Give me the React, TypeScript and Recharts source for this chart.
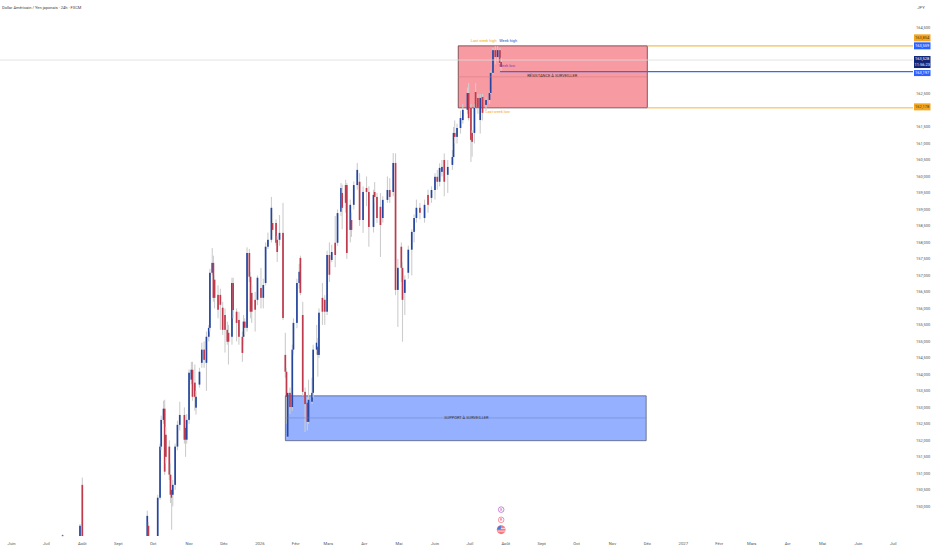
import { ComposedChart, Bar, XAxis, YAxis, ReferenceArea, ReferenceLine, ReferenceDot } from "recharts"

// daily candles, day 0 = 22 May 2025
const days = [
  54, 69, 71, 127, 128, 136, 138, 139, 141, 142,
  143, 146, 147, 148, 149, 151, 153, 155, 159, 160,
  161, 163, 165, 166, 168, 169, 172, 174, 176, 178,
  180, 181, 183, 184, 185, 188, 190, 192, 194, 196,
  197, 200, 201, 204, 206, 209, 210, 211, 213, 215,
  216, 217, 220, 222, 225, 227, 229, 231, 234, 235,
  238, 239, 241, 244, 246, 247, 248, 250, 252, 253,
  256, 258, 259, 261, 263, 265, 266, 269, 270, 273,
  274, 275, 278, 280, 282, 284, 286, 289, 291, 294,
  295, 298, 299, 302, 303, 305, 308, 310, 313, 316,
  318, 322, 323, 325, 328, 330, 334, 336, 339, 341,
  343, 346, 347, 349, 352, 355, 357, 359, 362, 366,
  369, 372, 375, 377, 379, 381, 383, 386, 390, 391,
  392, 394, 397, 399, 403, 404, 406, 407, 409, 410,
  412, 414, 416, 419, 422, 423, 425, 427, 429, 431, 432,
]
const opens = [
  149.1, 149.1, 150.65, 149.1, 149.41, 149.1, 150.26, 151.81, 152.62, 152.96,
  152.17, 151.81, 150.96, 150.5, 150.35, 150.65, 151.81, 152.47, 152.77, 152.38,
  152.02, 152.62, 153.84, 154.14, 153.75, 152.99, 153.69, 154.35, 154.75, 154.35,
  155.14, 155.41, 157.08, 157.38, 156.87, 156.41, 156.41, 156.02, 155.8, 155.35,
  155.26, 155.14, 156.77, 155.9, 155.65, 155.14, 155.14, 155.6, 155.41, 157.68,
  156.96, 156.47, 156.26, 156.26, 156.62, 156.32, 156.77, 157.87, 158.08, 158.59,
  158.59, 158.08, 158.08, 158.29, 154.59, 154.08, 152.11, 153.44, 153.01, 154.75,
  155.56, 156.77, 157.53, 155.8, 153.47, 153.14, 152.56, 153.17, 153.44, 154.75,
  154.84, 154.59, 156.32, 156.26, 155.9, 157.62, 157.47, 157.99, 157.99, 158.93,
  159.5, 159.74, 159.74, 158.38, 158.68, 159.14, 159.74, 159.84, 158.68, 159.65,
  159.53, 158.47, 159.53, 159.38, 159.08, 158.74, 159.29, 159.59, 159.53, 160.41,
  156.56, 157.87, 157.23, 156.47, 157.08, 157.78, 158.32, 158.74, 159.05, 158.74,
  159.44, 159.35, 159.59, 159.99, 159.84, 160.14, 160.5, 160.05, 160.35, 160.59,
  161.32, 161.2, 161.47, 161.71, 162.02, 162.53, 162.08, 161.32, 161.32, 162.56,
  162.38, 161.71, 162.41, 162.17, 162.32, 162.53, 163.14, 163.83, 163.62, 163.83, 163.47,
]
const closes = [
  149.12, 149.41, 149.1, 149.71, 149.1, 150.26, 151.81, 152.62, 152.96, 151.05,
  151.5, 150.96, 150.35, 150.26, 150.65, 151.81, 152.47, 152.77, 152.02, 152.02,
  152.62, 154.05, 154.14, 153.32, 153.32, 153.32, 154.08, 154.75, 154.44, 155.14,
  155.41, 157.08, 157.38, 156.32, 156.32, 155.96, 156.11, 155.35, 155.35, 154.99,
  154.99, 156.77, 155.95, 155.56, 155.14, 154.65, 155.6, 155.41, 157.68, 156.96,
  155.9, 155.9, 155.96, 156.93, 156.32, 156.71, 157.87, 158.08, 159.05, 158.38,
  157.99, 157.71, 158.29, 155.71, 154.08, 153.32, 153.44, 153.01, 154.75, 155.56,
  156.77, 157.11, 156.47, 153.47, 153.1, 152.56, 153.23, 153.44, 154.75, 154.96,
  154.59, 155.87, 155.9, 155.9, 157.62, 157.02, 157.71, 157.62, 158.89, 159.65,
  159.05, 159.2, 157.68, 159.14, 158.38, 159.74, 160.2, 158.68, 159.53, 159.53,
  158.47, 159.44, 159.38, 158.74, 158.53, 159.29, 159.59, 159.38, 160.41, 156.56,
  157.23, 157.23, 156.26, 156.87, 157.78, 158.32, 158.74, 159.05, 158.9, 159.14,
  159.14, 159.59, 159.99, 159.84, 160.26, 160.29, 159.84, 160.29, 160.59, 161.32,
  161.2, 161.47, 161.77, 162.02, 162.53, 161.77, 161.11, 161.05, 162.08, 162.08,
  162.08, 162.38, 161.93, 162.32, 162.53, 163.14, 163.83, 163.62, 163.83, 163.44, 163.32,
]
const highs = [
  149.15, 149.47, 150.87, 149.87, 149.53, 150.35, 151.9, 152.75, 153.2, 153.23,
  152.4, 152, 151.3, 150.9, 150.8, 151.9, 152.6, 153.17, 153, 152.6,
  152.8, 154.15, 154.38, 154.38, 154.3, 153.5, 154.2, 154.96, 155, 155.3,
  155.5, 157.2, 157.83, 157.6, 157, 156.7, 156.6, 156.2, 156, 155.6,
  155.5, 156.93, 156.93, 156, 155.9, 155.3, 155.8, 155.7, 157.85, 157.8,
  157.1, 156.7, 156.5, 157, 157.23, 156.9, 158, 158.3, 159.38, 158.9,
  158.7, 158.2, 158.83, 159.2, 155.26, 154.2, 153.5, 153.6, 154.9, 155.7,
  156.9, 157.35, 157.6, 156.2, 153.6, 153.3, 153.84, 153.9, 154.9, 155.5,
  155.1, 156, 156.77, 156.4, 157.75, 158, 157.93, 158.8, 159, 159.8,
  159.75, 159.9, 159.8, 159.3, 158.9, 159.85, 160.41, 160.1, 159.7, 160,
  159.7, 159.6, 159.83, 159.5, 159.5, 159.4, 160, 159.95, 160.71, 160.7,
  157.5, 158, 157.4, 157, 157.9, 158.4, 158.85, 159.3, 159.2, 159.3,
  159.6, 159.7, 160.1, 160.2, 160.4, 160.5, 160.7, 160.5, 160.8, 161.5,
  161.7, 161.6, 162, 162.2, 162.7, 162.83, 162.2, 161.4, 162.2, 162.83,
  162.5, 162.5, 162.5, 162.4, 162.6, 163.2, 163.9, 163.95, 163.95, 163.9, 163.6,
]
const lows = [
  149.1, 149.1, 149.1, 149.1, 149.1, 149.1, 150.2, 151.7, 152.5, 150.95,
  151.3, 150.8, 150.1, 149.29, 150, 150.5, 151.7, 152.3, 151.9, 151.5,
  151.9, 152.5, 153.7, 153.2, 152.9, 152.78, 153.6, 154.2, 154.2, 153.5,
  155, 155.3, 157, 156.2, 156, 155.7, 155.35, 155.2, 154.66, 154.9,
  154.3, 154.9, 155.7, 155, 154.9, 154.38, 154.9, 155.2, 155.3, 156.8,
  155.7, 155.56, 155.3, 156.1, 156, 156, 156.7, 157.8, 158, 158.2,
  157.9, 157.41, 157.9, 155.65, 153.9, 152.5, 152.08, 152.8, 152.9, 154.6,
  155.4, 156.6, 156.4, 153.35, 152.25, 152.3, 152.5, 153.1, 153.3, 154.6,
  153.93, 154.5, 155.5, 155.5, 155.8, 156.8, 157.4, 157.25, 157.9, 158.8,
  158.4, 158.9, 157.5, 158, 158.17, 159, 159.6, 158.5, 158.29, 159.1,
  157.87, 158.3, 159.2, 158.59, 157.56, 158.6, 159.2, 159.2, 159.4, 156.4,
  155.44, 156.8, 154.99, 155.8, 156.9, 157, 158, 158.6, 158.7, 158.6,
  158.9, 159.2, 159.3, 159.6, 159.7, 160, 159.4, 159.5, 160.2, 160.4,
  161, 161, 161.3, 161.6, 161.9, 161.7, 160.44, 160.6, 161, 162,
  161.9, 161.3, 161.7, 162, 162.2, 162.5, 163.1, 163.4, 163.5, 163.3, 163.2,
]

const monthDays = [10, 40, 71, 102, 132, 163, 193, 224, 255, 283, 314, 344, 375, 405, 436, 467, 497, 528, 558, 589, 620, 648, 679, 709, 740, 770]
const monthNames = ["Juin", "Juil", "Août", "Sept", "Oct", "Nov", "Déc", "2026", "Févr", "Mars", "Avr", "Mai", "Juin", "Juil", "Août", "Sept", "Oct", "Nov", "Déc", "2027", "Févr", "Mars", "Avr", "Mai", "Juin", "Juil"]
const priceTicks = [150, 150.5, 151, 151.5, 152, 152.5, 153, 153.5, 154, 154.5, 155, 155.5, 156, 156.5, 157, 157.5, 158, 158.5, 159, 159.5, 160, 160.5, 161, 161.5, 162.5, 164.5]

const UP = "#23459f"
const DOWN = "#bf3a4c"
const ORANGE = "#f5a623"
const LEVEL_BLUE = "#3f68e8"
const FONT = "Roboto, sans-serif"

const candles = days.map((day, i) => ({
  day,
  range: [lows[i], highs[i]],
  open: opens[i],
  close: closes[i],
}))

const fmtPrice = (v: number) => v.toFixed(3).replace(".", ",")

// the bar spans low..high, the body is placed inside it on the same scale
function Candle(props: any) {
  const { x, y, width, height, payload } = props
  const [low, high] = payload.range
  const perUnit = height / (high - low)
  const top = y + (high - Math.max(payload.open, payload.close)) * perUnit
  const bodyH = Math.max(Math.abs(payload.open - payload.close) * perUnit, 0.8)
  const mid = x + width / 2
  return (
    <g>
      <rect x={mid - 0.55} y={y} width={1.1} height={height} fill="#cdcdcd" />
      <rect x={mid - 0.85} y={top} width={1.7} height={bodyH} fill={payload.close >= payload.open ? UP : DOWN} />
    </g>
  )
}

// price tag sitting on the right axis
function badge(text: string, fill: string, dy = 0, h = 7) {
  return (props: any) => (
    <g>
      <rect x={props.cx + 1} y={props.cy + dy - h / 2} width={16.5} height={h} fill={fill} />
      <text x={props.cx + 9.2} y={props.cy + dy + 1.4} fontSize={4} fontFamily={FONT} textAnchor="middle" fill={fill === ORANGE ? "#5a3a00" : "#fff"}>{text}</text>
    </g>
  )
}

function marker(text: string, stroke: string, fill: string, r: number) {
  return (props: any) => (
    <g>
      <circle cx={props.cx} cy={props.cy} r={r} fill={fill} stroke={stroke} strokeWidth={0.6} />
      <text x={props.cx} y={props.cy + 1.3} fontSize={3.6} fontFamily={FONT} textAnchor="middle" fill={stroke}>{text}</text>
    </g>
  )
}

function flagMarker(props: any) {
  return (
    <g>
      <circle cx={props.cx} cy={props.cy} r={4.4} fill="#f47a86" />
      <path d={`M${props.cx - 4} ${props.cy - 0.3} A4.4 4.4 0 0 1 ${props.cx - 0.3} ${props.cy - 4.2} V${props.cy - 0.3} Z`} fill="#3f7fe0" />
      <rect x={props.cx - 0.3} y={props.cy - 1.8} width={4.2} height={0.7} fill="#fff" />
      <rect x={props.cx - 3.8} y={props.cy + 1} width={7.6} height={0.7} fill="#fff" />
    </g>
  )
}

function note(text: string, fill: string, fontSize = 3.9, dx = 0) {
  return (props: any) => (
    <text x={props.cx + dx} y={props.cy} fontSize={fontSize} fontFamily={FONT} textAnchor="middle" dominantBaseline="middle" fill={fill}>{text}</text>
  )
}

export default function App() {
  return (
    <div style={{ position: "absolute", left: 0, top: 0, width: 932, height: 550, background: "#fff" }}>
      <ComposedChart width={932} height={550} data={candles} barSize={2} margin={{ top: 0, right: 0, bottom: 0, left: 0 }}>
        <XAxis
          dataKey="day"
          type="number"
          domain={[0, 787]}
          ticks={monthDays}
          interval={0}
          height={14}
          axisLine={false}
          tickLine={false}
          tickMargin={6}
          tickSize={0}
          tick={{ fontSize: 4.2, fill: "#555", fontFamily: FONT }}
          tickFormatter={(v: number) => monthNames[monthDays.indexOf(v)] ?? ""}
        />
        <YAxis
          orientation="right"
          type="number"
          domain={[149.1, 165.35]}
          ticks={priceTicks}
          interval={0}
          width={19}
          axisLine={false}
          tickLine={false}
          tickSize={0}
          tickMargin={3}
          tick={{ fontSize: 4, fill: "#555", fontFamily: FONT }}
          tickFormatter={fmtPrice}
        />
        <ReferenceLine y={163.53} stroke="#dcdcdc" strokeWidth={0.8} />
        <Bar dataKey="range" shape={Candle} isAnimationActive={false} />

        {/* resistance zone */}
        <ReferenceArea x1={395} x2={558} y1={162.08} y2={163.96} fill="#f23645" fillOpacity={0.5} stroke="#4a2a2e" strokeWidth={0.7} />
        <ReferenceLine segment={[{ x: 395, y: 163.02 }, { x: 558, y: 163.02 }]} stroke="#d2747d" strokeWidth={0.5} />
        <ReferenceDot x={476} y={163.05} r={0} shape={note("RÉSISTANCE À SURVEILLER", "#333", 4)} />

        {/* support zone */}
        <ReferenceArea x1={246} x2={557} y1={151.99} y2={153.35} fill="#2962ff" fillOpacity={0.5} stroke="#4a5070" strokeWidth={0.7} />
        <ReferenceLine segment={[{ x: 246, y: 152.68 }, { x: 557, y: 152.68 }]} stroke="#6f82bd" strokeWidth={0.5} />
        <ReferenceDot x={402} y={152.68} r={0} shape={note("SUPPORT À SURVEILLER", "#333", 4)} />

        {/* weekly levels */}
        <ReferenceLine segment={[{ x: 558, y: 163.96 }, { x: 787, y: 163.96 }]} stroke="#f5bc55" strokeWidth={1.2} />
        <ReferenceLine segment={[{ x: 558, y: 162.08 }, { x: 787, y: 162.08 }]} stroke="#f5b640" strokeWidth={1} />
        <ReferenceLine segment={[{ x: 431, y: 163.18 }, { x: 787, y: 163.18 }]} stroke={LEVEL_BLUE} strokeWidth={1.1} />
        <ReferenceDot x={417} y={164.1} r={0} shape={note("Last week high", ORANGE)} />
        <ReferenceDot x={438} y={164.1} r={0} shape={note("Week high", "#2f55c4")} />
        <ReferenceDot x={437} y={163.35} r={0} shape={note("Week low", "#8a3fa8")} />
        <ReferenceDot x={429} y={161.95} r={0} shape={note("Last week low", ORANGE)} />

        {/* axis tags */}
        <ReferenceDot x={787} y={163.96} r={0} ifOverflow="visible" shape={badge("163,854", ORANGE, -8)} />
        <ReferenceDot x={787} y={163.96} r={0} ifOverflow="visible" shape={badge("163,559", "#2962ff")} />
        <ReferenceDot x={787} y={163.53} r={0} ifOverflow="visible" shape={badge("163,528", "#10257a", -1, 6)} />
        <ReferenceDot x={787} y={163.53} r={0} ifOverflow="visible" shape={badge("11:56:23", "#10257a", 5, 6)} />
        <ReferenceDot x={787} y={163.18} r={0} ifOverflow="visible" shape={badge("163,197", "#2962ff", 1.5, 6)} />
        <ReferenceDot x={787} y={162.08} r={0} ifOverflow="visible" shape={badge("162,178", ORANGE, -1)} />
        <ReferenceDot x={787} y={165.12} r={0} ifOverflow="visible" shape={note("JPY", "#555", 4.2, 8)} />

        {/* events */}
        <ReferenceDot x={432} y={149.9} r={3} shape={marker("E", "#9c3fc0", "#fff", 2.8)} />
        <ReferenceDot x={432} y={149.59} r={3} shape={marker("R", "#f0505f", "#fff", 2.8)} />
        <ReferenceDot x={432} y={149.29} r={4} shape={flagMarker} />
      </ComposedChart>
      <div style={{ position: "absolute", left: 2, top: 5, fontFamily: FONT, fontSize: 4, lineHeight: "5px", color: "#444", whiteSpace: "nowrap" }}>
        Dollar Américain / Yen japonais · 24h · FXCM
      </div>
    </div>
  )
}
